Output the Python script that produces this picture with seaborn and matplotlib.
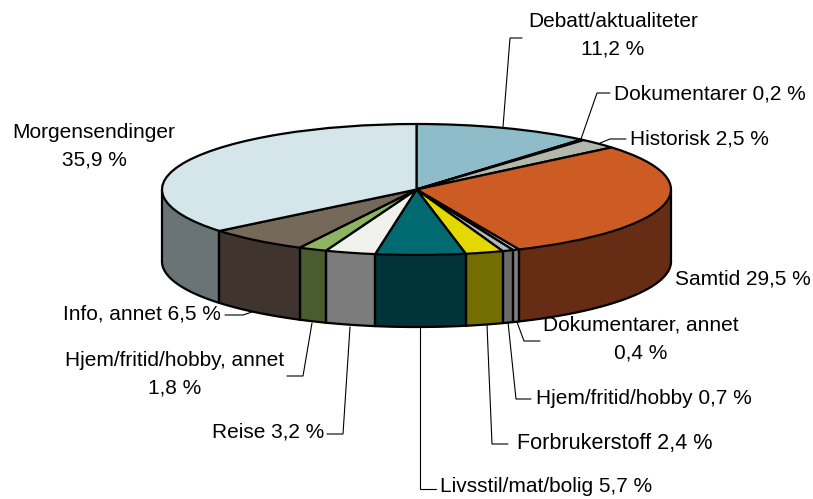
import numpy as np
import matplotlib
matplotlib.use("Agg")
import matplotlib.pyplot as plt
import seaborn as sns

sns.set_theme(style="white")
plt.rcParams['font.family'] = ['Liberation Sans', 'DejaVu Sans']

categories = ["Debatt/aktualiteter", "Dokumentarer", "Historisk", "Samtid", "Dokumentarer, annet",
              "Hjem/fritid/hobby", "Forbrukerstoff", "Livsstil/mat/bolig", "Reise",
              "Hjem/fritid/hobby, annet", "Info, annet", "Morgensendinger"]
values = [11.2, 0.2, 2.5, 29.5, 0.4, 0.7, 2.4, 5.7, 3.2, 1.8, 6.5, 35.9]
top_colors = ["#8FBCC9", "#B3B8AC", "#B3B8AC", "#CC5C24", "#D0D0D0", "#B8B8B8", "#E3D800",
              "#006A70", "#F0F1EC", "#8DB55F", "#75695A", "#D4E6E9"]
side_colors = ["#47626A", "#5A5C56", "#5A5C56", "#662C14", "#808080", "#6A6A6A", "#746E00",
               "#003438", "#7C7C7C", "#485C2E", "#3F352E", "#6A7476"]

W, H = 813, 499
CX, CY, RX, RY, DEPTH = 416.5, 189.5, 254.5, 65.5, 72

fig = plt.figure(figsize=(W / 100, H / 100), dpi=100, facecolor="white")
ax = fig.add_axes([0, 0, 1, 1])
edge = dict(edgecolor="black", linewidth=1.6)

# Top face: a real pie, squashed to an ellipse by the axes scale
wedges, _ = ax.pie(values, colors=top_colors, startangle=90, counterclock=False,
                   radius=1, center=(0, 0), wedgeprops=dict(**edge, joinstyle="round"))
ax.set_aspect("auto")
ax.set_xlim(-CX / RX, (W - CX) / RX)
ax.set_ylim((CY - H) / RY, CY / RY)
ax.set_axis_off()

# Rim: extrude the front part of every wedge (clockwise pie angles run from 90 down to -270)
d = DEPTH / RY
for w, col in zip(wedges, side_colors):
    a0, a1 = max(w.theta1, -180), min(w.theta2, 0)
    if a1 <= a0:
        continue
    t = np.radians(np.linspace(a0, a1, 80))
    ax.fill_between(np.cos(t), np.sin(t), np.sin(t) - d, color=col, zorder=0.5, linewidth=0)
    ax.plot(np.cos(t), np.sin(t) - d, color="black", lw=1.6, zorder=0.6)
    for a in (a0, a1):
        r = np.radians(a)
        ax.plot([np.cos(r)] * 2, [np.sin(r), np.sin(r) - d], color="black", lw=1.6, zorder=0.6)

# Annotation layer in pixel coordinates
ov = fig.add_axes([0, 0, 1, 1], facecolor="none")
ov.set_xlim(0, W)
ov.set_ylim(H, 0)
ov.set_axis_off()

labels = [
    ("Debatt/aktualiteter\n11,2 %", 613, 35, 15),
    ("Dokumentarer 0,2 %", 710, 94, 15),
    ("Historisk 2,5 %", 699, 139, 15),
    ("Samtid 29,5 %", 743, 279, 15),
    ("Dokumentarer, annet\n0,4 %", 641, 339, 15),
    ("Hjem/fritid/hobby 0,7 %", 644, 398, 15),
    ("Forbrukerstoff 2,4 %", 615, 443, 15.6),
    ("Livsstil/mat/bolig 5,7 %", 546, 487, 15),
    ("Reise 3,2 %", 268, 432, 15),
    ("Hjem/fritid/hobby, annet\n1,8 %", 175, 374, 15),
    ("Info, annet 6,5 %", 142, 314, 15),
    ("Morgensendinger\n35,9 %", 94, 146, 15),
]
for txt, x, y, size in labels:
    ov.text(x, y, txt, ha="center", va="center", fontsize=size, color="black",
            linespacing=1.6)

leaders = [
    ([503, 510, 522], [127, 38, 38]),
    ([581, 597, 610], [139, 93, 93]),
    ([600, 610, 626], [143, 139, 139]),
    ([517, 524, 540], [322, 341, 341]),
    ([508, 516, 531], [322, 399, 399]),
    ([487, 492, 508], [325, 444, 444]),
    ([420, 420, 436], [327, 489, 489]),
    ([350, 343, 327], [327, 434, 434]),
    ([312, 303, 287], [323, 376, 376]),
    ([252, 243, 225], [312, 315, 315]),
]
for xs, ys in leaders:
    ov.plot(xs, ys, color="black", lw=0.8, solid_joinstyle="miter")

fig.savefig("out.png", dpi=100, facecolor="white")
